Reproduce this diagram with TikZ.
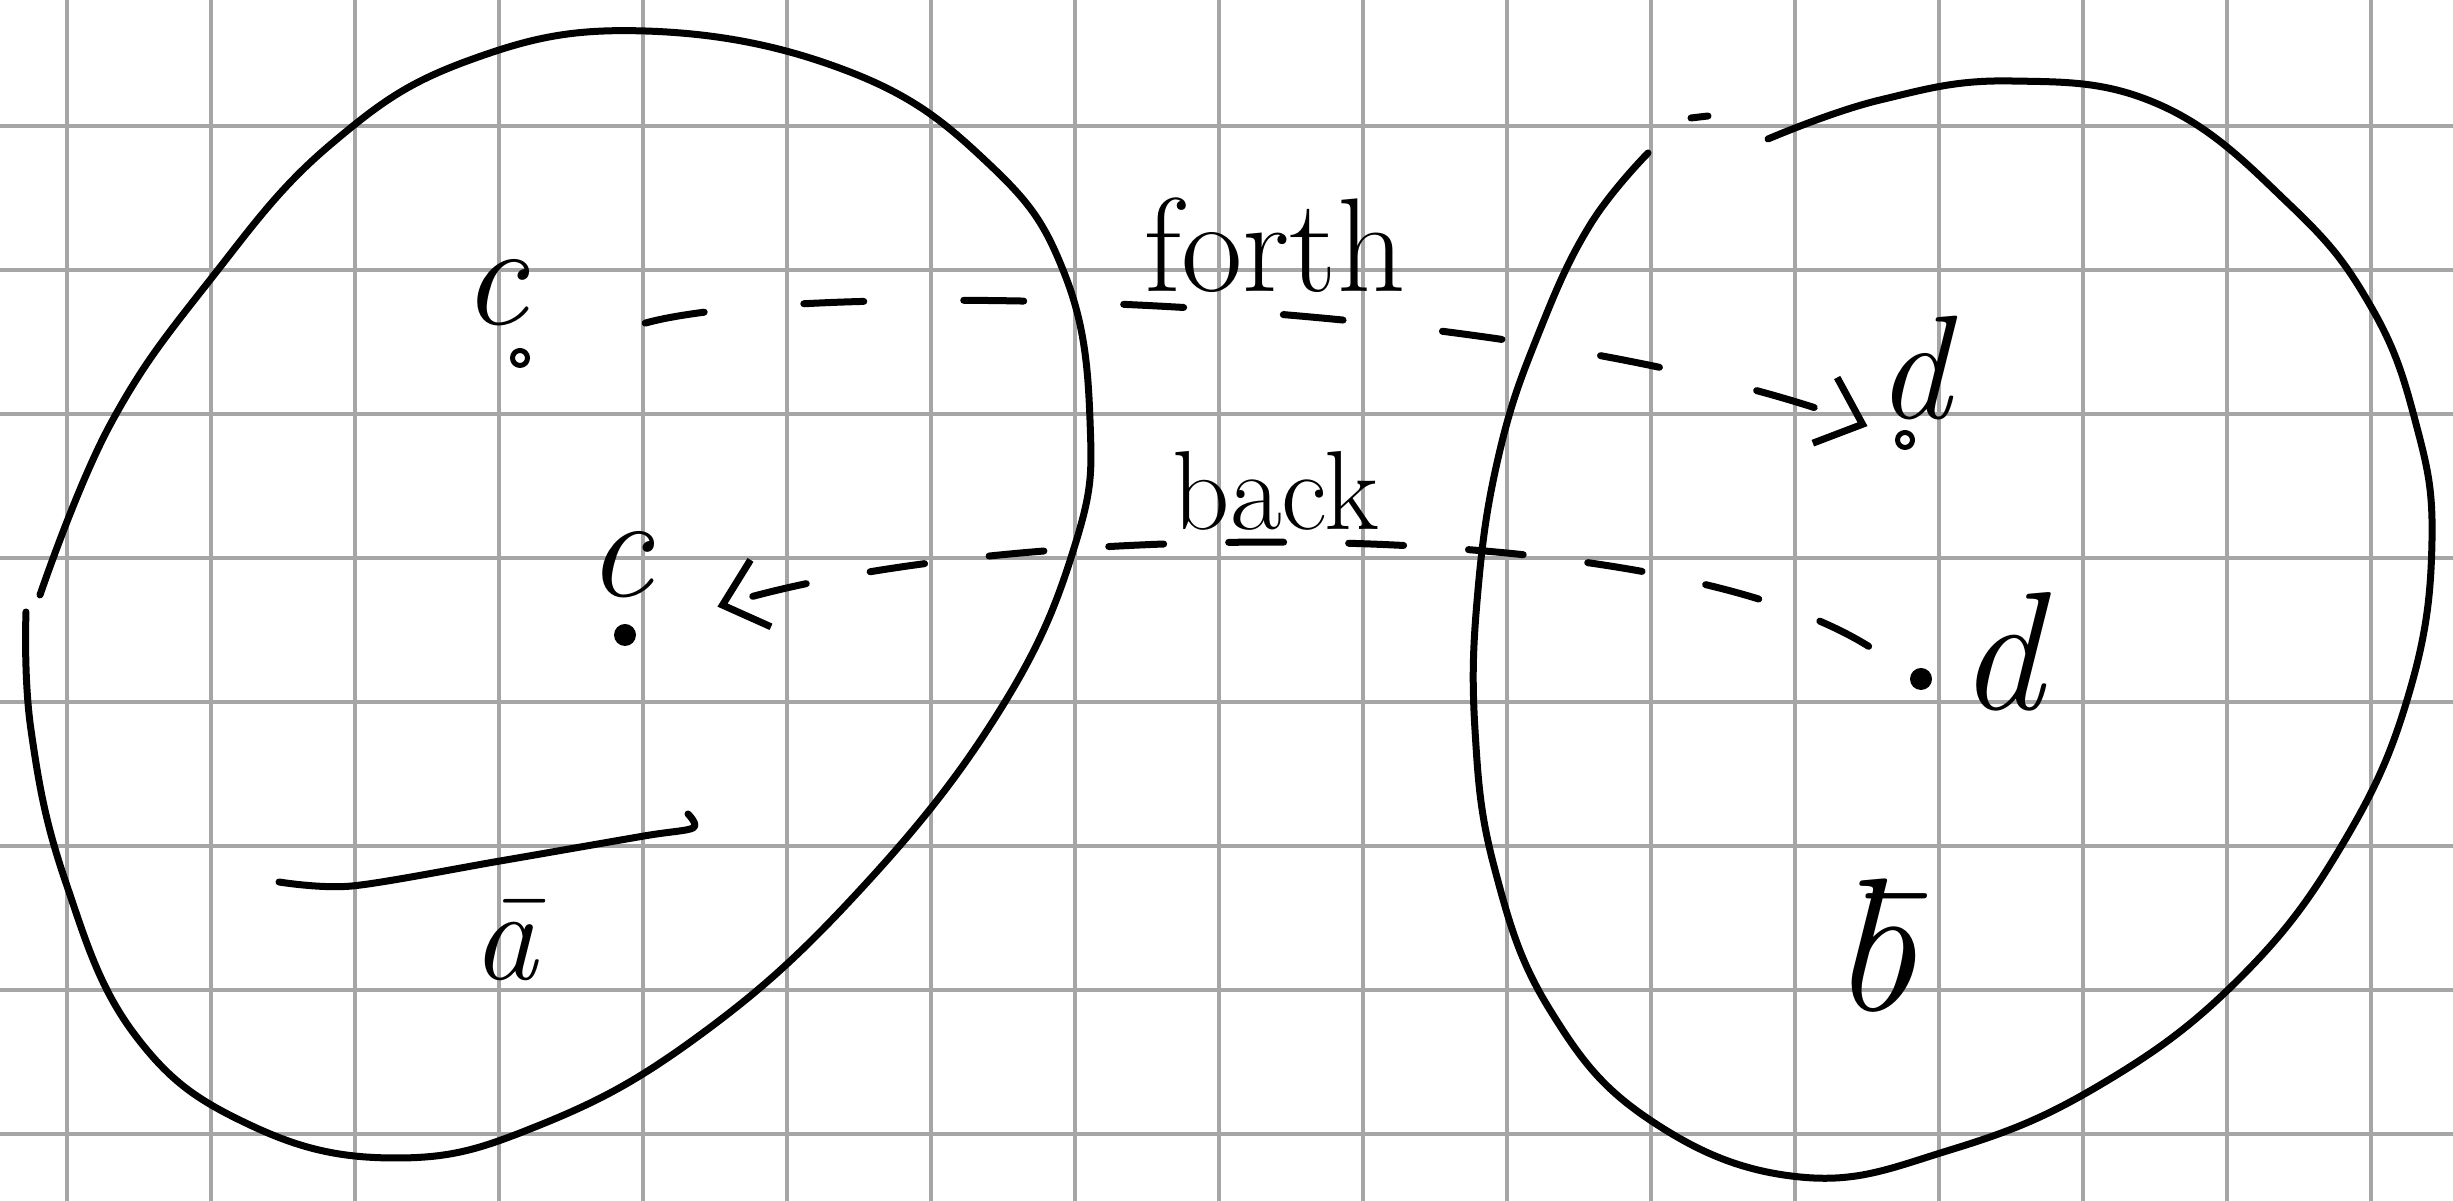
\documentclass[tikz,border=0pt]{standalone}
\usetikzlibrary{arrows.meta}

\begin{document}
\begin{tikzpicture}[x=0.1mm,y=-0.1mm,line cap=round,line join=round,
  >={Straight Barb[length=4mm,width=7mm]},
  ink/.style={line width=0.7mm},
  gridline/.style={black!35,line width=0.35mm},
  link/.style={ink,dash pattern=on 6mm off 8mm},
  opendot/.style={circle,draw,line width=0.5mm,inner sep=0pt,minimum size=1.5mm},
  fulldot/.style={circle,fill,inner sep=0pt,minimum size=2.2mm},
  lbl/.style={font=\fontsize{42}{48}\selectfont\itshape,anchor=base,inner sep=0pt},
  word/.style={anchor=base,inner sep=0pt}]
  \useasboundingbox (0,0) rectangle (2453,1201);
  \fill[white] (0,0) rectangle (2453,1201);
  \foreach \gx in {67,211,...,2371} \draw[gridline] (\gx,0) -- (\gx,1201);
  \foreach \gy in {126,270,...,1134} \draw[gridline] (0,\gy) -- (2453,\gy);

  \draw[ink] plot[smooth,tension=0.7] coordinates {(26,612) (31,730) (65,880) (135,1035) (250,1125) (396,1158) (540,1125) (700,1035) (860,890) (1000,710) (1075,545) (1090,420) (1065,275) (990,165) (850,72) (645,31) (470,60) (330,145) (210,280) (110,425) (40,595)};
  \draw[ink] plot[smooth,tension=0.7] coordinates {(1648,153) (1590,225) (1540,330) (1500,450) (1478,590) (1475,730) (1495,870) (1550,1010) (1650,1120) (1800,1177) (1950,1150) (2100,1085) (2240,978) (2345,840) (2410,690) (2432,540) (2415,420) (2370,305) (2290,205) (2160,105) (2011,81) (1880,100) (1768,139)};
  \draw[ink] (1691,118) -- (1708,116);
  \draw[ink] plot[smooth,tension=0.5] coordinates {(279,882) (352,886) (500,861) (644,836) (693,828) (688,814)};

  \node[opendot] (c1) at (520,358) {};
  \node[fulldot] (c2) at (625,635) {};
  \node[opendot] (d1) at (1905,440) {};
  \node[fulldot] (d2) at (1921,679) {};

  \node[lbl] (lc1) at (495,325) {c};
  \node[lbl] (lc2) at (620,597) {c};
  \node[lbl] (ld1) at (1913,419) {d};
  \node[lbl,font=\fontsize{48}{54}\selectfont\itshape] (ld2) at (2001,710) {d};
  \node[lbl,font=\fontsize{37}{42}\selectfont\itshape] (la) at (505,980) {\=a};
  \node[lbl,font=\fontsize{54}{60}\selectfont\itshape] (lb) at (1873,1011) {\=b};

  \node[word,font=\fontsize{38}{44}\selectfont] (forthlbl) at (1275,292) {forth};
  \node[word,font=\fontsize{32}{38}\selectfont] (backlbl) at (1276,530) {back};

  \draw[link,->,dash pattern=on 6mm off 10mm,shorten <=12mm,shorten >=3mm] (c1) .. controls (800,280) and (1500,290) .. (d1);
  \draw[link,->,dash pattern=on 5.5mm off 6.5mm,shorten <=5mm,shorten >=8.5mm] (d2) .. controls (1650,510) and (1000,520) .. (c2);
\end{tikzpicture}
\end{document}
